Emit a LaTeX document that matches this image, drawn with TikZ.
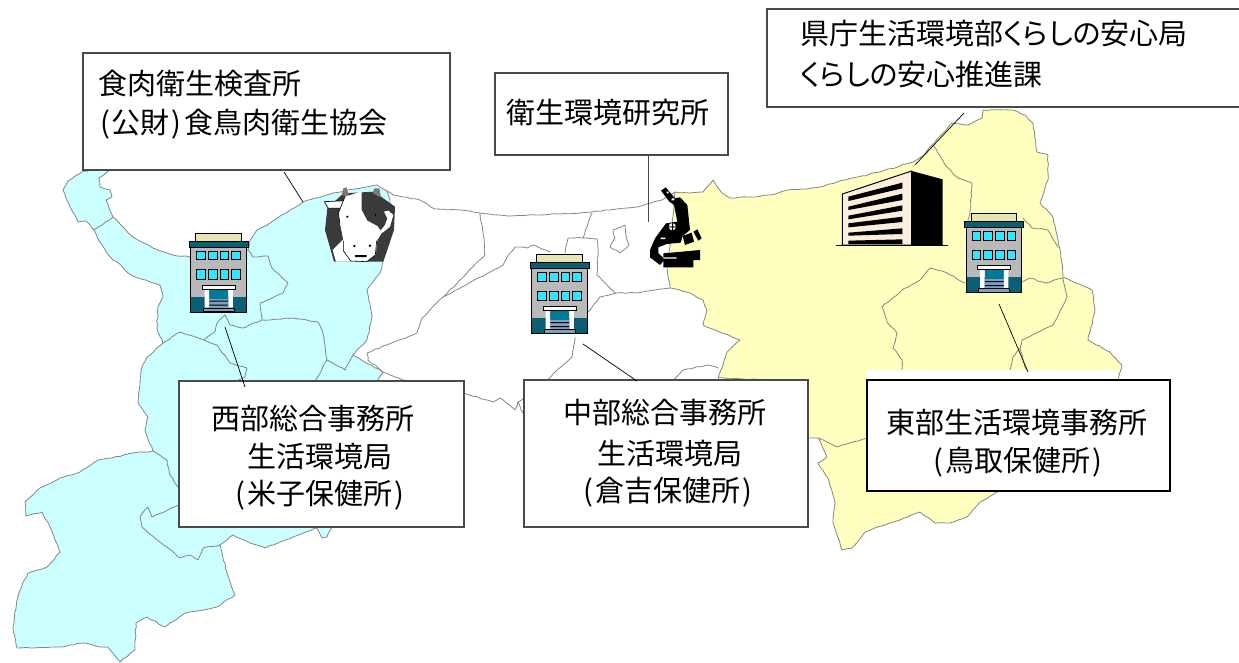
\documentclass[tikz,border=0pt]{standalone}
\usepackage{fontspec}
\usetikzlibrary{decorations.pathmorphing}
\setmainfont{Noto Sans CJK JP}
\newfontfamily\kanafont[RawFeature=+palt]{Noto Sans CJK JP}
\newcommand{\kn}[1]{{\kanafont #1}}
\newcommand{\lpar}{(\kern2pt}
\newcommand{\rpar}{\kern2pt)}
\definecolor{westblue}{HTML}{CCFFFF}
\definecolor{eastyellow}{HTML}{FFFFBF}
\definecolor{mapline}{HTML}{858585}
\definecolor{boxline}{HTML}{4A4A4A}
\definecolor{roofc}{HTML}{E8E4B4}
\definecolor{corn}{HTML}{0B5F73}
\definecolor{bodyc}{HTML}{B9B9B9}
\definecolor{windowc}{HTML}{33E6FF}
\definecolor{doorc}{HTML}{007A96}
\definecolor{stepc}{HTML}{7F9FBF}
\definecolor{creamc}{HTML}{FBEEDC}
\definecolor{cowdark}{HTML}{3A3A3A}
\definecolor{horn}{HTML}{7A7A7A}
\pgfmathsetseed{7}
\tikzset{
  x=1pt,y=-1pt,
  wiggle/.style={decorate,decoration={random steps,segment length=4.5pt,amplitude=0.55pt}},
  borderline/.style={draw=mapline,line width=0.8pt,line join=round,line cap=round,wiggle},
  region/.style={line width=0.8pt,draw=mapline,line join=round,wiggle},
  labelbox/.style={draw=boxline,fill=white,line width=1.1pt,inner sep=0pt},
  txt/.style={font=\fontsize{29}{30}\selectfont,inner sep=0pt,text=black},
  conn/.style={draw=black,line width=0.7pt},
  zoomed/.style={x=0.33333pt,y=-0.33333pt},
  office/.pic={
    \draw[black,line width=0.9pt,fill=roofc] (6.7,0.5) rectangle (52,9);
    \draw[black,line width=0.9pt,fill=bodyc] (1.7,14.5) rectangle (57,79.5);
    \fill[corn] (2.2,64) rectangle (56.5,79);
    \draw[black,line width=0.9pt,fill=corn] (0,8.5) rectangle (59,14.5);
    \foreach \cx/\cw in {7.7/8.6,19.3/8.7,31/8.7,42.7/8.6}{
      \draw[black,line width=0.9pt,fill=windowc] (\cx,18.5) rectangle ++(\cw,8.5);
      \draw[black,line width=0.9pt,fill=windowc] (\cx,37) rectangle ++(\cw,9.5);
    }
    \fill[doorc] (20,57) rectangle (39.3,66);
    \fill[stepc] (20,66) rectangle (39.3,75);
    \fill[black] (20,68) rectangle (39.3,69) (20,72) rectangle (39.3,73);
    \fill[white] (15.5,57) rectangle (20,75) (39.3,57) rectangle (43.8,75);
    \draw[black,line width=0.9pt,fill=white] (13.3,52.8) rectangle (46,56.8);
    \draw[black,line width=0.7pt,fill=stepc] (14,75.5) rectangle (45,79);
  }
}
\begin{document}
\begin{tikzpicture}
\useasboundingbox (0,0) rectangle (1239,662);
% --- map fills ---
\path[region,fill=westblue] (117,165)--(112,167)--(107,169)--(95,170)--(83,171)--(68,181)--(63,190)--(70,207)--(78,222)--(86,221)--(94,230)--(100,242)--(106,252)--(113,260)--(121,265)--(128,273)--(138,278)--(150,282)--(160,285)--(163,297)--(158,307)--(157,328)--(163,343)--(147,357)--(141,370)--(140,385)--(138,403)--(148,417)--(145,430)--(153,451)--(133,453)--(112,458)--(98,460)--(80,472)--(60,478)--(40,488)--(25,502)--(26,516)--(42,512)--(50,527)--(55,540)--(60,552)--(47,567)--(28,573)--(22,585)--(17,600)--(13,627)--(17,648)--(33,648)--(60,647)--(83,643)--(100,647)--(108,647)--(120,662)--(135,650)--(136,623)--(147,617)--(165,627)--(185,613)--(203,610)--(217,607)--(235,595)--(227,573)--(220,545)--(233,535)--(250,543)--(265,548)--(293,537)--(317,528)--(322,538)--(327,537)--(345,500)--(378,380)--(383,372)--(353,355)--(367,340)--(372,317)--(367,290)--(380,273)--(383,262)--(390,200)--(387,191)--(377,185)--(355,189)--(333,193)--(303,202)--(290,210)--(270,223)--(257,230)--(250,240)--(248,250)--(190,257)--(173,255)--(153,248)--(133,237)--(113,217)--(106,200)--(112,197)--(110,190)--(100,187)--(99,178)--(107,172)--cycle;
\path[region,fill=eastyellow] (675,192)--(690,193)--(703,192)--(708,186)--(713,180)--(718,188)--(722,193)--(730,198)--(750,197)--(770,195)--(788,190)--(803,189)--(820,187)--(837,182)--(853,178)--(880,172)--(913,162)--(924,155)--(932,145)--(942,134)--(952,123)--(968,125)--(982,118)--(983,110)--(1013,110)--(1025,115)--(1033,123)--(1037,152)--(1048,155)--(1048,180)--(1040,203)--(1053,217)--(1058,240)--(1062,263)--(1063,277)--(1092,290)--(1095,310)--(1088,340)--(1110,352)--(1122,365)--(1118,380)--(1000,491)--(997,492)--(980,502)--(967,517)--(950,523)--(935,523)--(920,512)--(893,522)--(865,532)--(852,548)--(842,550)--(833,523)--(835,503)--(828,478)--(818,463)--(827,457)--(818,438)--(808,438)--(780,380)--(718,378)--(727,352)--(740,340)--(703,325)--(707,310)--(703,300)--(690,293)--(670,288)--(667,268)--(672,230)--cycle;
% --- inner borders, west ---
\draw[borderline] (113,217)--(94,230);
\draw[borderline] (248,250)--(253,257)--(268,256)--(272,268)--(288,283)--(283,293)--(260,303)--(262,320)--(243,328)--(230,325)--(225,315);
\draw[borderline] (262,320)--(293,318)--(318,322)--(323,333)--(327,360)--(345,370)--(353,355);
\draw[borderline] (327,360)--(315,381);
\draw[borderline] (225,315)--(217,323)--(215,332)--(204,340)--(180,332)--(163,343);
\draw[borderline] (204,340)--(217,345)--(230,363)--(247,368)--(245,377)--(236,381);
\draw[borderline] (153,451)--(167,460)--(170,475)--(178,487);
\draw[borderline] (179,505)--(152,517)--(148,507)--(140,517)--(142,527)--(160,542)--(180,558)--(190,555)--(198,560)--(203,548)--(220,545);
% --- white region ---
\draw[borderline] (387,191)--(393,195)--(420,200)--(435,209)--(470,211)--(480,213)--(510,216)--(535,215)--(560,214)--(592,212)--(617,209)--(637,207)--(662,200)--(675,192);
\draw[borderline] (480,213)--(483,233)--(485,255)--(443,297)--(422,318)--(417,333)--(367,353)--(368,360)--(383,372)--(403,380)--(420,381);
\draw[borderline] (443,297)--(503,265)--(507,257)--(515,247)--(527,248)--(533,245)--(542,249)--(550,252);
\draw[borderline] (592,213)--(583,238)--(568,238)--(565,253);
\draw[borderline] (583,238)--(597,239)--(598,250)--(597,275)--(615,293);
\draw[borderline] (588,312)--(600,297)--(617,293)--(637,293)--(670,288);
\draw[borderline] (575,337)--(572,357)--(557,370)--(547,380);
\draw[borderline] (672,381)--(683,370)--(707,365)--(718,368);
\draw[borderline] (464,393)--(493,402)--(500,398)--(515,410)--(518,402)--(524,398);
\draw[borderline] (518,402)--(523,413);
\draw[borderline] (613,230)--(625,225)--(627,240)--(629,245)--(620,253)--(610,247)--(615,238)--cycle;
% --- inner borders, east ---
\draw[borderline] (933,145)--(947,167)--(958,178)--(972,183)--(970,213)--(968,220);
\draw[borderline] (1023,218)--(1032,228)--(1048,230)--(1058,247);
\draw[borderline] (1022,282)--(1030,278)--(1045,283)--(1063,278)--(1067,297)--(1053,325)--(1022,340)--(1020,348)--(1025,367)--(1028,372);
\draw[borderline] (1020,348)--(1013,357)--(1010,370);
\draw[borderline] (965,283)--(947,273)--(930,268)--(920,280)--(902,290)--(882,307)--(887,322)--(897,333)--(893,348)--(902,360)--(902,370);
\draw[borderline] (818,438)--(837,447)--(868,438);
% --- white patch above the east box ---
\fill[white] (867,370) rectangle (1118,381);
% --- label boxes ---
\node[labelbox,minimum width=367pt,minimum height=117pt] (meatbox) at (266.5,111.5) {};
\node[labelbox,minimum width=233pt,minimum height=82pt] (eikenbox) at (611.5,114) {};
\node[labelbox,minimum width=480pt,minimum height=98pt] (prefbox) at (1007,58) {};
\node[labelbox,minimum width=285pt,minimum height=146pt] (westbox) at (321.5,454) {};
\node[labelbox,minimum width=284pt,minimum height=147pt] (midbox) at (666,453.5) {};
\node[labelbox,draw=black,minimum width=303pt,minimum height=111pt] (eastbox) at (1018.5,435.5) {};
% --- texts ---
\node[txt,anchor=west] (t1a) at (98,84) {食肉衛生検査所};
\node[txt,anchor=west] (t1b) at (100,124) {\lpar 公財\rpar\kern3pt 食鳥肉衛生協会};
\node[txt] (t2) at (608,113) {衛生環境研究所};
\node[txt,anchor=west] (t3a) at (800,33) {県庁生活環境部\kn{くらしの}安心局};
\node[txt,anchor=west] (t3b) at (800,74) {\kn{くらしの}安心推進課};
\node[txt] (t4a) at (313,418) {西部総合事務所};
\node[txt] (t4b) at (320,456) {生活環境局};
\node[txt] (t4c) at (320,495) {\lpar 米子保健所\rpar};
\node[txt] (t5a) at (665,413) {中部総合事務所};
\node[txt] (t5b) at (670,453) {生活環境局};
\node[txt] (t5c) at (668,492) {\lpar 倉吉保健所\rpar};
\node[txt] (t6a) at (1017,423) {東部生活環境事務所};
\node[txt] (t6b) at (1018,462) {\lpar 鳥取保健所\rpar};
% --- connectors ---
\coordinate (c1a) at (284,172); \coordinate (c1b) at (303,202);
\coordinate (c2a) at (648,156); \coordinate (c2b) at (648,222);
\coordinate (c3a) at (964,113); \coordinate (c3b) at (915,165);
\coordinate (c4a) at (225,327); \coordinate (c4b) at (245,387);
\coordinate (c5a) at (583,344); \coordinate (c5b) at (637,381);
\coordinate (c6a) at (999,304); \coordinate (c6b) at (1028,372);
\draw[conn] (c1a)--(c1b);
\draw[conn,draw=boxline] (c2a)--(c2b);
\draw[conn] (c3a)--(c3b);
\draw[conn] (c4a)--(c4b);
\draw[conn] (c5a)--(c5b);
\draw[conn] (c6a)--(c6b);
% --- offices ---
\pic at (189,232.5) {office};
\pic at (530,254) {office};
\pic at (964.5,213) {office};
% --- prefectural office ---
\begin{scope}[shift={(720,90)},zoomed]
\draw[black,line width=1pt,fill=creamc] (367,312)--(575,243)--(575,465)--(367,465)--cycle;
\fill[black] (575,243)--(668,268)--(668,465)--(575,465)--cycle;
\foreach \la/\lb/\ra/\rb in {320/333/278/295,350/360/311/330,377/388/346/362,400/412/380/396,428/437/415/432,452/462/448/462}{
  \fill[black] (385,\la)--(547,\ra)--(547,\rb)--(385,\lb)--cycle;
}
\draw[black,line width=1pt] (348,465)--(683,465);
\end{scope}
% --- cow ---
\begin{scope}[shift={(170,180)},zoomed]
\fill[cowdark] (472,85)--(465,150)--(492,245)--(640,245)--(672,150)--(675,80)--(612,35)--(520,40)--cycle;
\fill[horn] (515,45)--(520,25)--(530,22)--(537,50)--cycle (608,40)--(613,25)--(628,25)--(633,52)--cycle;
\draw[black,line width=0.7pt,fill=white] (463,65)--(525,62)--(520,85)--(475,85)--cycle;
\fill[white] (505,100)--(525,50)--(575,34)--(575,90)--(592,122)--(622,138)--(636,158)--(622,180)--(617,225)--(590,245)--(540,245)--(520,215)--(520,180)--(510,130)--cycle;
\fill[white] (488,210)--(520,178)--(545,245)--(498,245)--cycle;
\fill[white] (638,158)--(660,140)--(670,105)--(655,92)--(642,95)--(652,115)--(645,135)--(625,160)--cycle;
\fill[black] (532,110) circle (3.5) (617,105) circle (3) (553,198) circle (4) (600,197) circle (4) (555,225) rectangle (590,231);
\draw[black,line width=0.6pt] (520,182)--(520,212)--(542,243)--(590,245)--(616,225)--(620,182);
\draw[black,line width=0.6pt] (510,130)--(505,100)--(525,50);
\end{scope}
% --- microscope ---
\begin{scope}[shift={(630,170)},zoomed]
\fill[black] (93,62)--(107,52)--(135,85)--(150,82)--(172,105)--(180,180)--(158,198)--(152,218)--(110,222)--(85,232)--(85,250)--(105,268)--(90,285)--(60,262)--(60,240)--(75,205)--(108,160)--(142,155)--(132,105)--(118,95)--cycle;
\fill[black] (158,198)--(185,188)--(192,215)--(165,225)--cycle (190,185)--(202,178)--(215,205)--(205,212)--cycle;
\fill[black] (100,250)--(210,240)--(210,270)--(190,270)--(190,292)--(100,292)--cycle;
\fill[white] (127,170) circle (11);
\fill[black] (127,170) circle (3) (115,169) rectangle (139,172) (126,158) rectangle (129,182);
\fill[white] (110,65) rectangle (116,70) (125,85) rectangle (133,91) (92,203) rectangle (106,207) (100,262) rectangle (140,266);
\end{scope}
\end{tikzpicture}
\end{document}
